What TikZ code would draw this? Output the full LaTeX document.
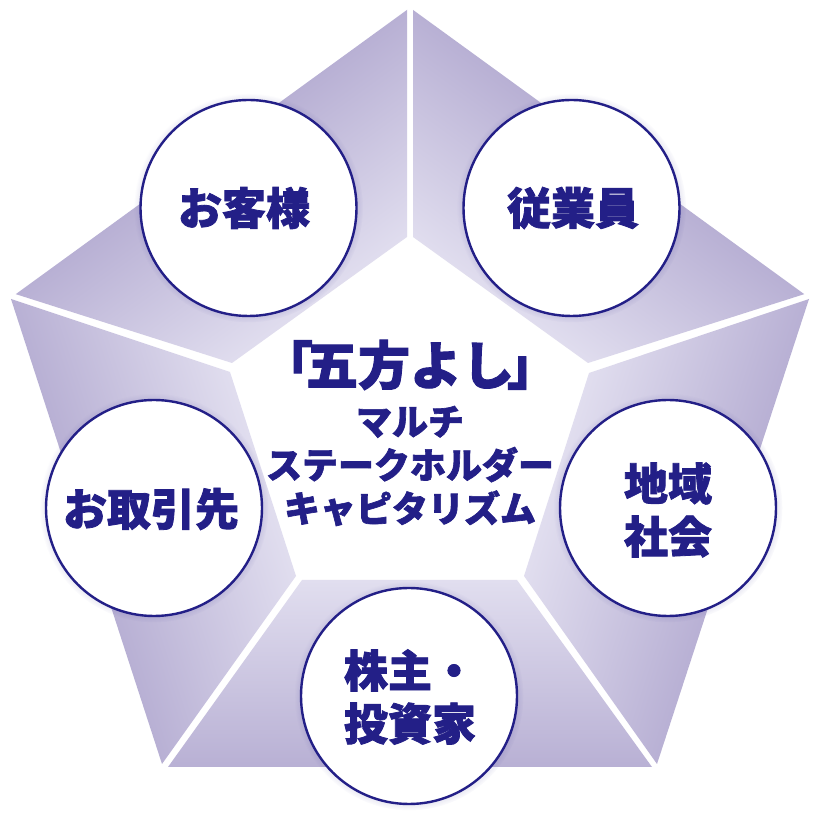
\documentclass[tikz,border=0pt]{standalone}
\usepackage{fontspec}
\usetikzlibrary{shadows,fadings}
\newfontfamily\jpfont[BoldFeatures={FakeBold=1.8}]{Noto Sans CJK JP}
\definecolor{navy}{HTML}{231F87}
\definecolor{bandout}{HTML}{B8B0D4}
\definecolor{bandin}{HTML}{E1DEEF}
\tikzset{
  band/.style={rectangle, inner sep=0pt, minimum width=900pt, minimum height=188pt,
    top color=bandin, bottom color=bandout},
  party/.style={circle, draw=navy, line width=2.4pt, fill=white, minimum size=216pt, inner sep=0pt,
    circular glow={shadow scale=1.06, fill=navy, opacity=0.25}},
  party text/.style={text=navy, font=\jpfont\bfseries\fontsize{44}{53}\selectfont, align=center, inner sep=0pt},
  head text/.style={text=navy, font=\jpfont\bfseries\fontsize{52}{60}\selectfont, inner sep=0pt},
  sub text/.style={text=navy, font=\jpfont\bfseries\fontsize{36}{43.5}\selectfont, align=center, inner sep=0pt}
}
\begin{document}
\begin{tikzpicture}[x=1pt,y=1pt]
  \path[use as bounding box, fill=white] (0,0) rectangle (820,824);

  % Flaechen
  \begin{scope}
    \clip (407,817) -- (407,587) -- (232,461) -- (9,532) -- cycle;
    \begin{scope}[transform canvas={rotate around={216:(410,396)}}]
      \node[band] (bandtl) at (410,150) {};
    \end{scope}
  \end{scope}
  \begin{scope}
    \clip (413,817) -- (413,587) -- (588,461) -- (811,532) -- cycle;
    \begin{scope}[transform canvas={rotate around={144:(410,396)}}]
      \node[band] (bandtr) at (410,150) {};
    \end{scope}
  \end{scope}
  \begin{scope}
    \clip (809,525) -- (589,451) -- (524,248) -- (657,60) -- cycle;
    \begin{scope}[transform canvas={rotate around={72:(410,396)}}]
      \node[band] (bandr) at (410,150) {};
    \end{scope}
  \end{scope}
  \begin{scope}
    \clip (302,244) -- (517,244) -- (652,57) -- (168,57) -- cycle;
    \node[band] (bandb) at (410,150) {};
  \end{scope}
  \begin{scope}
    \clip (11,525) -- (230,452) -- (296,248) -- (162,60) -- cycle;
    \begin{scope}[transform canvas={rotate around={288:(410,396)}}]
      \node[band] (bandl) at (410,150) {};
    \end{scope}
  \end{scope}

  % Kreise
  \node[party] (kyaku) at (248.5,616) {};
  \node[party] (jugyo) at (571.5,616) {};
  \node[party] (chiiki) at (668,316) {};
  \node[party] (kabu) at (409,128) {};
  \node[party] (torihiki) at (154,316) {};

  \node[party text] (kyakutext) at (244,616) {お客様};
  \node[party text] (jugyotext) at (573,616) {従業員};
  \node[party text] (chiikitext) at (668,314) {地域\\社会};
  \node[party text] (kabutext) at (410,127) {株主・\\投資家};
  \node[party text] (torihikitext) at (151,315) {お取引先};

  % Mitte
  \node[head text] (gopo) at (410,459) {「\kern-7pt 五方よし\kern-7pt 」};
  \node[sub text] (multi) at (410,358) {マルチ\\ステークホルダー\\キャピタリズム};
\end{tikzpicture}
\end{document}
